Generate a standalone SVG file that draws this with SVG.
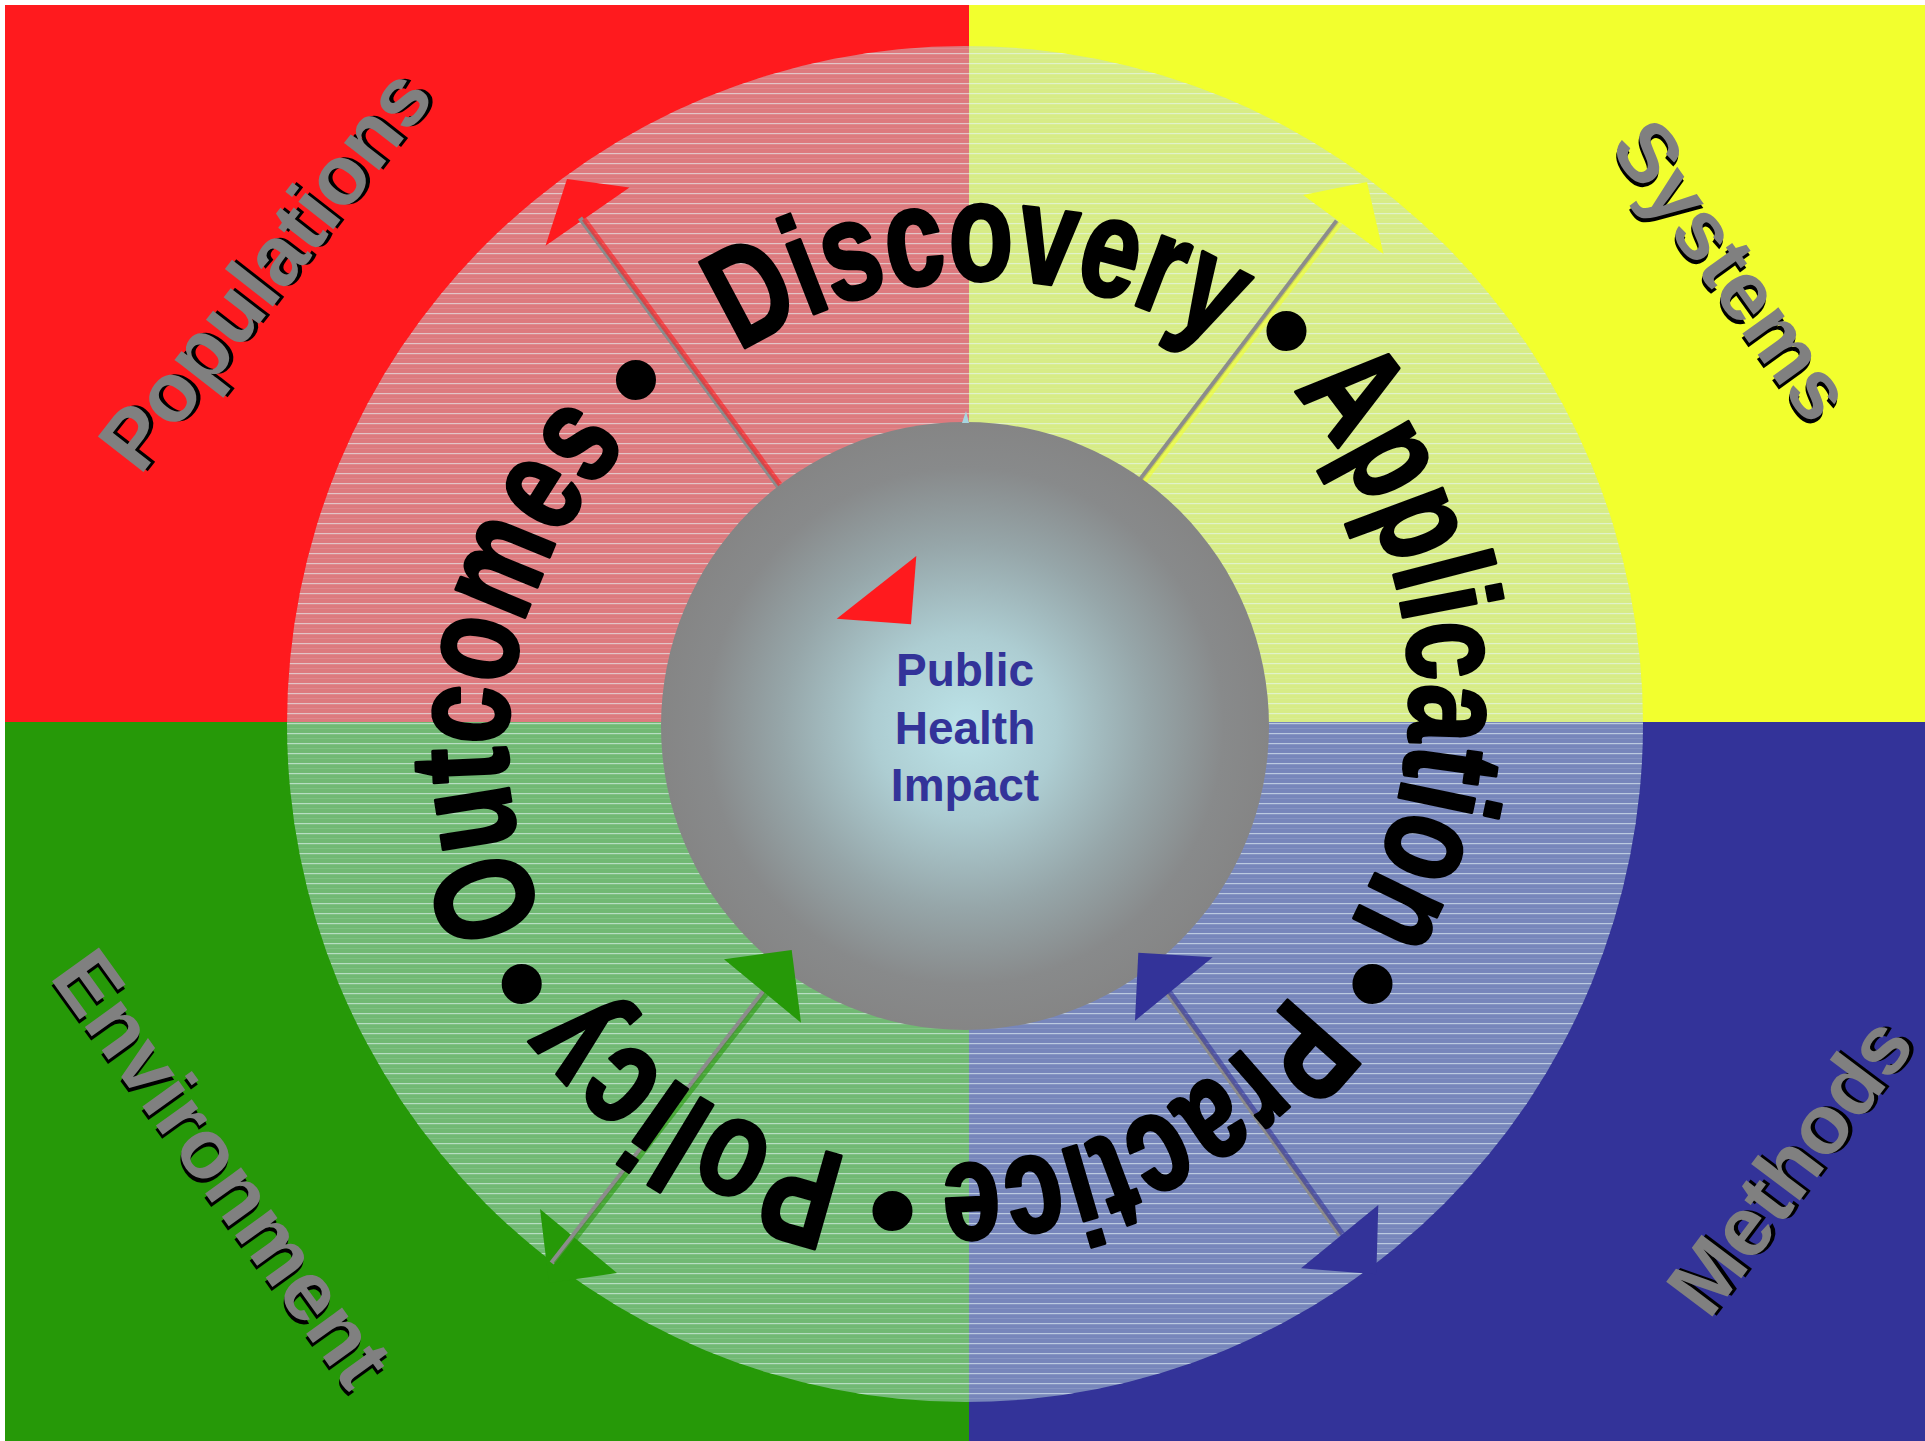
<svg xmlns="http://www.w3.org/2000/svg" width="1925" height="1441" viewBox="0 0 1925 1441">
  <defs>
    <style>
      .lbl { font-family: "Liberation Sans", Arial, sans-serif; font-weight: bold; font-size: 84px; fill: #808080; text-anchor: middle; }
      .lblsh { font-family: "Liberation Sans", Arial, sans-serif; font-weight: bold; font-size: 84px; fill: #000000; text-anchor: middle; }
      .ring { font-family: "Liberation Sans", Arial, sans-serif; font-weight: bold; font-size: 140px; fill: #000000; stroke: #000000; stroke-width: 3.5; stroke-linejoin: round; }
      .bul { font-family: "Liberation Sans", Arial, sans-serif; font-weight: bold; font-size: 140px; fill: #000000; text-anchor: middle; }
      .ctr { font-family: "Liberation Sans", Arial, sans-serif; font-weight: bold; font-size: 46px; fill: #333399; text-anchor: middle; }
      .shadow { stroke: #8C8C8C; stroke-width: 5; fill: none; }
      .ln { stroke-width: 5; fill: none; opacity: 0.6; }
    </style>
    <pattern id="hl" x="0" y="3" width="10" height="10" patternUnits="userSpaceOnUse">
      <rect x="0" y="0" width="10" height="1.2" fill="#E8F6F8" opacity="0.6"/>
      <rect x="0" y="5" width="10" height="1" fill="#E8F6F8" opacity="0.12"/>
    </pattern>
    <radialGradient id="sph" cx="50%" cy="50%" r="50%">
      <stop offset="0" stop-color="#BCE3E8"/>
      <stop offset="0.3" stop-color="#ADCDD2"/>
      <stop offset="0.6" stop-color="#96A6A9"/>
      <stop offset="0.85" stop-color="#888A8B"/>
      <stop offset="1" stop-color="#858585"/>
    </radialGradient>
    <path id="pDiscovery" d="M739.4,352.5 A454.5,454.5 0 0,1 1222.5,346.2"/>
    <path id="pApplication" d="M1292.8,390.6 A457.7,457.7 0 0,1 1348.2,926.8"/>
    <path id="pPractice" d="M1291.4,993.8 A426.4,426.4 0 0,1 937.9,1164.9"/>
    <path id="pPolicy" d="M848.5,1156.7 A439.7,439.7 0 0,1 583,989.6"/>
    <path id="pOutcomes" d="M544.7,921.4 A431.9,431.9 0 0,1 630.7,442.8"/>
  </defs>

  <rect x="0" y="0" width="1925" height="1441" fill="#FFFFFF"/>

  <g id="quadrants">
    <rect id="q-populations" x="5" y="5" width="964" height="717" fill="#FF1A1E"/>
    <rect id="q-systems" x="969" y="5" width="956" height="717" fill="#F2FF2E"/>
    <rect id="q-environment" x="5" y="722" width="964" height="719" fill="#269908"/>
    <rect id="q-methods" x="969" y="722" width="956" height="719" fill="#333399"/>
  </g>

  <g id="ring-disc">
    <circle cx="965" cy="724" r="678" fill="#BBD9DE" opacity="0.5"/>
    <circle cx="965" cy="724" r="678" fill="url(#hl)"/>
  </g>

  <g id="labels">
    <g id="populations" transform="translate(288,287) rotate(-52)">
      <text class="lblsh" x="3" y="3" font-size="85">Populations</text>
      <text class="lbl" x="0" y="0" font-size="85">Populations</text>
    </g>
    <g id="systems" transform="translate(1709,287) rotate(54.3)">
      <text class="lblsh" x="3" y="3">Systems</text>
      <text class="lbl" x="0" y="0">Systems</text>
    </g>
    <g id="environment" transform="translate(199,1185) rotate(54.2)">
      <text class="lblsh" x="3" y="3">Environment</text>
      <text class="lbl" x="0" y="0">Environment</text>
    </g>
    <g id="methods" transform="translate(1813,1183) rotate(-53)">
      <text class="lblsh" x="3" y="3">Methods</text>
      <text class="lbl" x="0" y="0">Methods</text>
    </g>
  </g>

  <g id="connectors">
    <polygon id="head-red-out" points="567,179 629.5,187.5 545.5,245.7" fill="#FF1A1E"/>
    <polygon id="head-yellow-out" points="1303,195 1367,182 1383.5,254" fill="#F2FF2E"/>
    <polygon id="head-green-out" points="540,1209 617,1273 549,1283" fill="#269908"/>
    <polygon id="head-blue-out" points="1378.3,1205 1301,1268.3 1376.3,1274.3" fill="#333399"/>

    <line class="shadow" x1="580" y1="218" x2="800" y2="516"/>
    <line class="ln" stroke="#FF1A1E" x1="584" y1="219" x2="804" y2="517"/>
    <line class="shadow" x1="1337" y1="221" x2="1131" y2="492"/>
    <line class="ln" stroke="#F2FF2E" x1="1341" y1="222" x2="1135" y2="493"/>
    <line class="shadow" x1="551.7" y1="1263" x2="800" y2="945"/>
    <line class="ln" stroke="#269908" x1="555.7" y1="1264" x2="804" y2="946"/>
    <line class="shadow" x1="1340" y1="1235" x2="1140" y2="955"/>
    <line class="ln" stroke="#333399" x1="1344" y1="1236" x2="1144" y2="956"/>
  </g>

  <g id="public-health-impact">
    <circle cx="965" cy="726" r="304" fill="url(#sph)"/>
    <polygon points="962,423 966,411 969,423" fill="#A6D6E0"/>
    <polygon id="head-red-in" points="836.7,618.7 916.3,556 911,624.3" fill="#FF1A1E"/>
    <polygon id="head-green-in" points="724,959.3 791.7,950 801,1022.7" fill="#269908"/>
    <polygon id="head-blue-in" points="1138.3,952.7 1212.7,957.3 1135,1020.7" fill="#333399"/>
    <text class="ctr" x="965" y="686">Public</text>
    <text class="ctr" x="965" y="744">Health</text>
    <text class="ctr" x="965" y="801">Impact</text>
  </g>

  <g id="ring-text">
    <text class="ring"><textPath href="#pDiscovery" textLength="506" lengthAdjust="spacingAndGlyphs">Discovery</textPath></text>
    <text class="bul" x="1286.6" y="377">•</text>
    <text class="ring"><textPath href="#pApplication" textLength="573" lengthAdjust="spacingAndGlyphs">Application</textPath></text>
    <text class="bul" x="1372.6" y="1030">•</text>
    <text class="ring"><textPath href="#pPractice" textLength="405" lengthAdjust="spacingAndGlyphs">Practice</textPath></text>
    <text class="bul" x="892.5" y="1257">•</text>
    <text class="ring"><textPath href="#pPolicy" textLength="318" lengthAdjust="spacingAndGlyphs">Policy</textPath></text>
    <text class="bul" x="521.8" y="1030">•</text>
    <text class="ring"><textPath href="#pOutcomes" textLength="513" lengthAdjust="spacingAndGlyphs">Outcomes</textPath></text>
    <text class="bul" x="636" y="426">•</text>
  </g>
</svg>
